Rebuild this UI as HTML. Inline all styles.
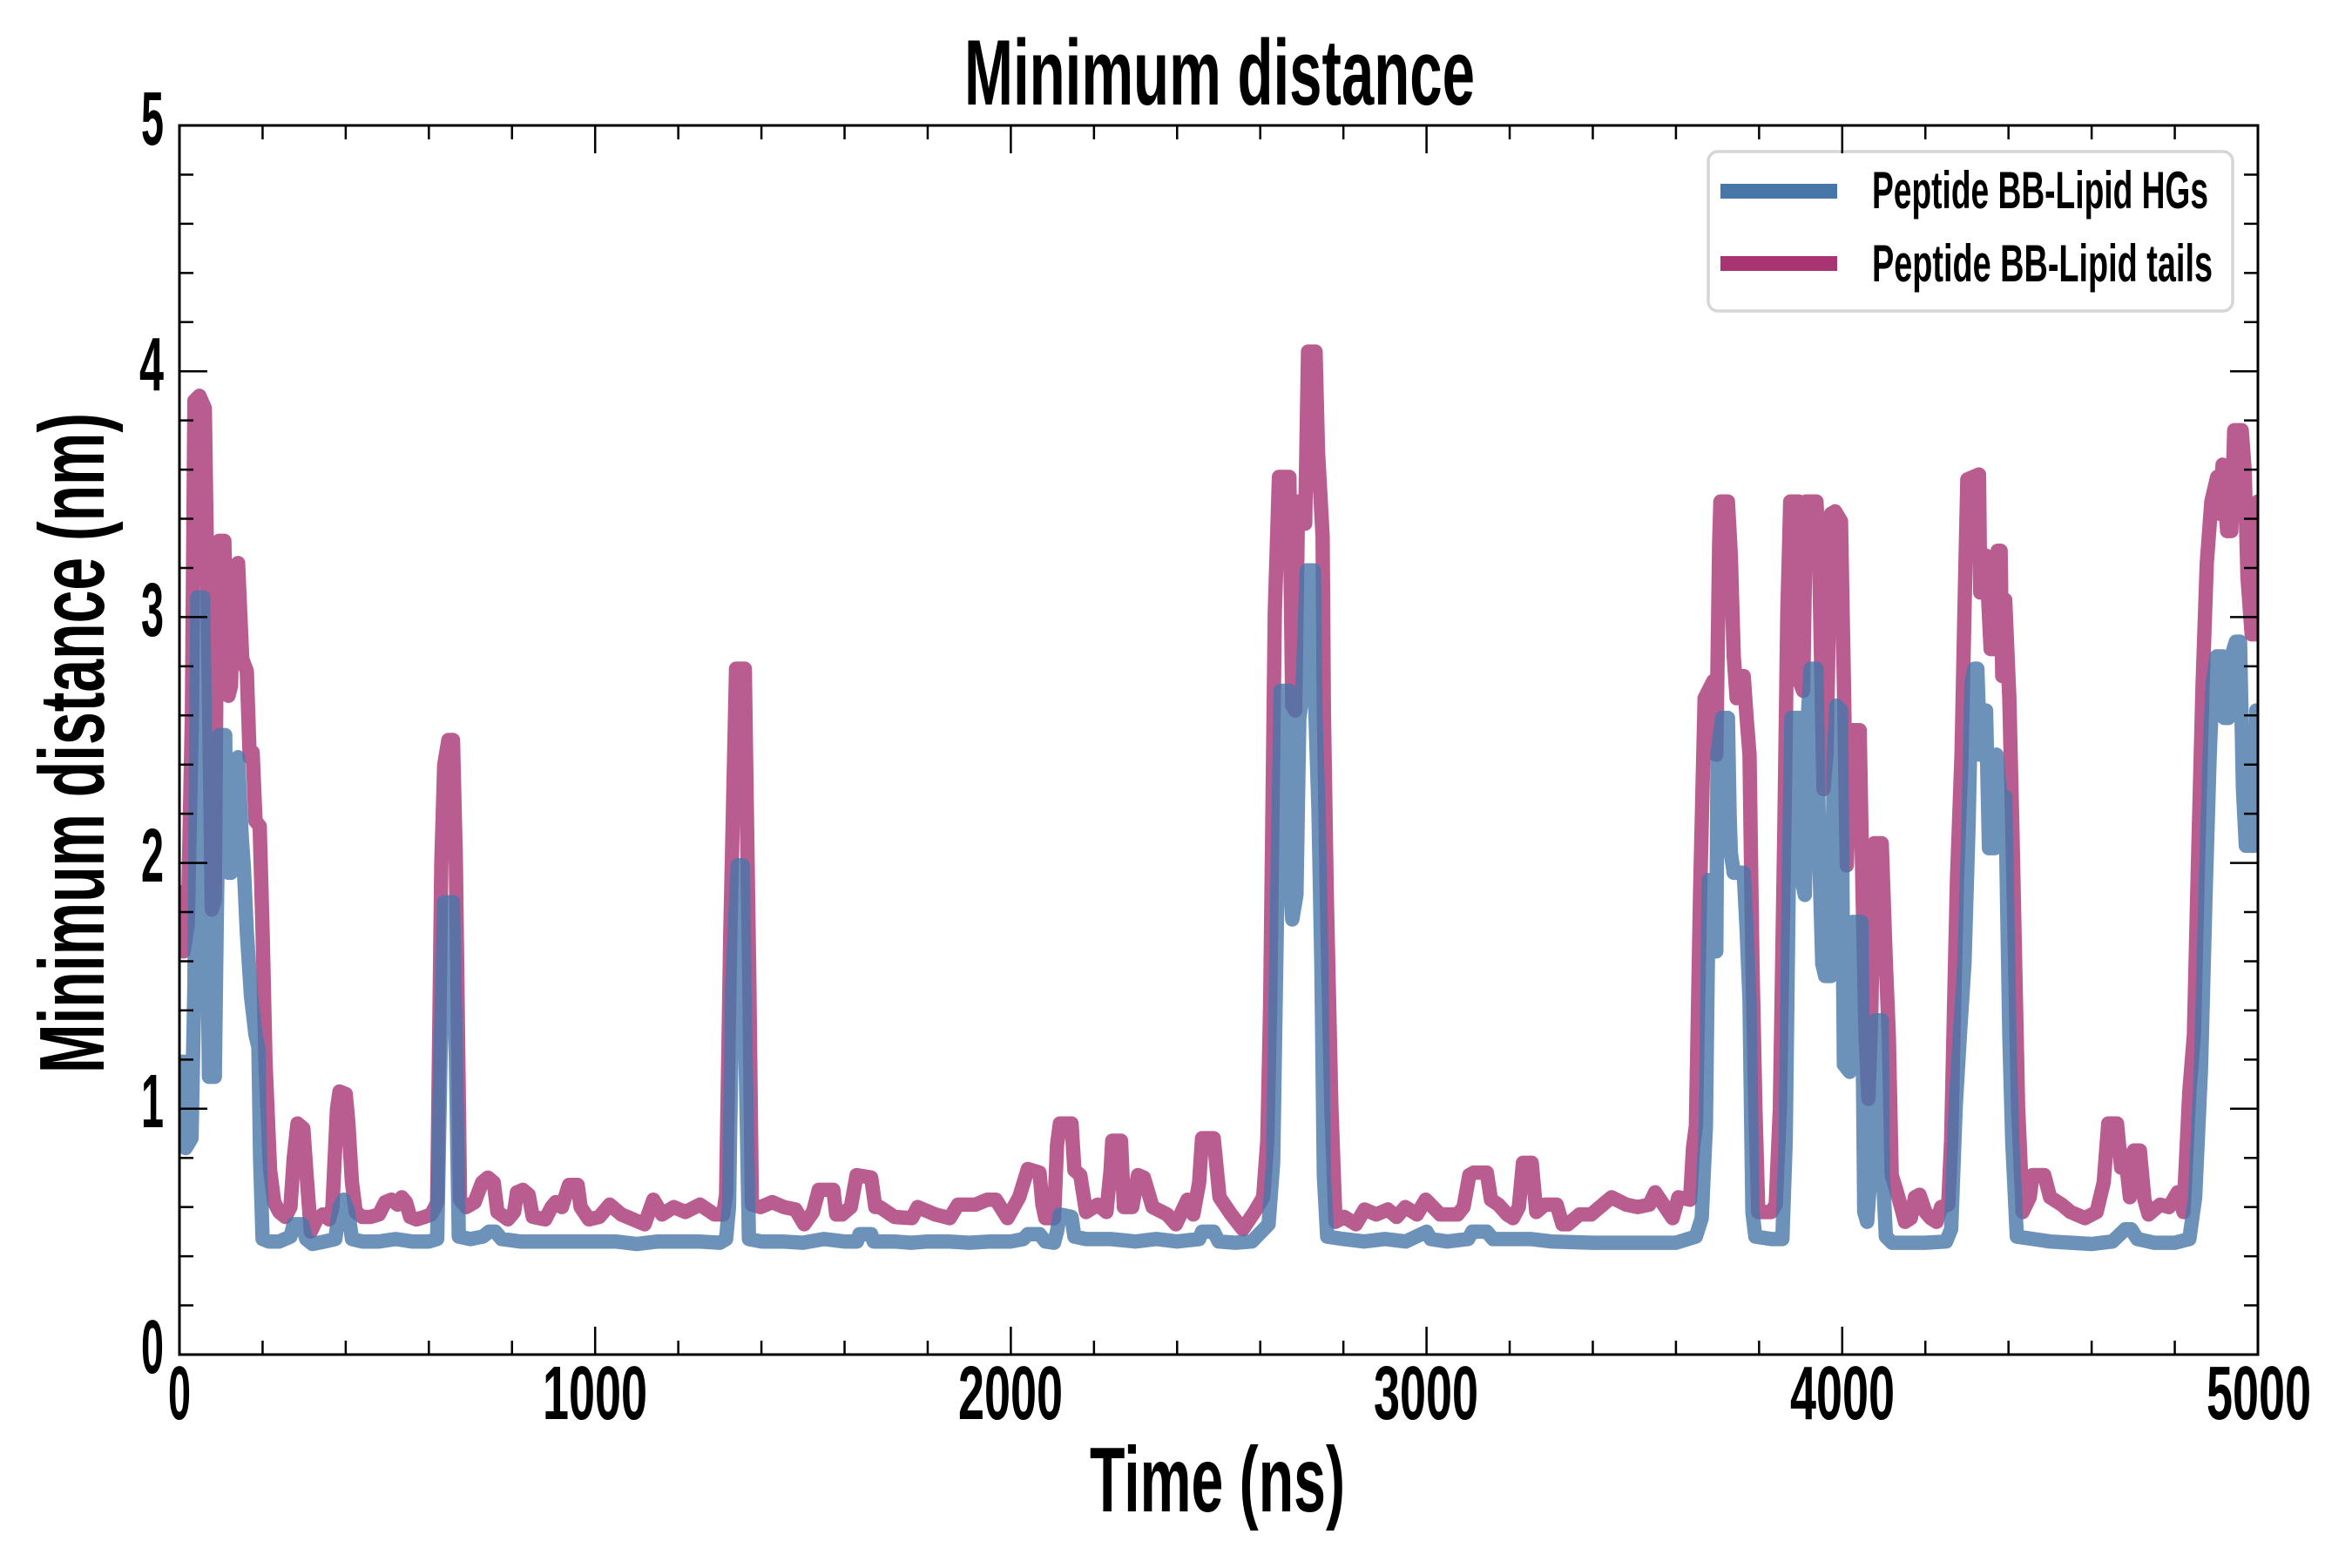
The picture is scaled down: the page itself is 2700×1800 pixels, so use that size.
<!DOCTYPE html>
<html>
<head>
<meta charset="utf-8">
<style>
html,body{margin:0;padding:0;background:#fff;}
svg{display:block;}
text{font-family:"Liberation Sans Narrow","Liberation Sans",sans-serif;font-weight:bold;fill:#000;}
</style>
</head>
<body>
<svg xmlns="http://www.w3.org/2000/svg" width="2700" height="1800" viewBox="0 0 2700 1800">
<defs>
<clipPath id="c" clipPathUnits="userSpaceOnUse"><rect x="206" y="144" width="2386" height="1411"/></clipPath>
</defs>
<rect x="0" y="0" width="2700" height="1800" fill="#fff"/>

<g clip-path="url(#c)">
<g transform="translate(206 1555) scale(0.4772 -282.2)">
<polyline fill="none" stroke="#a83474" stroke-opacity="0.8" stroke-width="16.5" stroke-linejoin="round" vector-effect="non-scaling-stroke"
points="0,1.91 10,1.64 20,1.75 30,2.6 36,3.88 48,3.9 61,3.85 70,2.8 78,1.81 85,1.85 90,3.0 95,3.31 108,3.31 113,2.9 118,2.68 124,2.72 131,3.2 141,3.22 151,2.83 162,2.78 169,2.43 176,2.45 183,2.17 193,2.15 200,1.72 207,1.19 218,0.75 228,0.62 240,0.58 255,0.56 267,0.6 275,0.8 284,0.94 298,0.92 305,0.75 316,0.5 330,0.55 345,0.57 360,0.55 368,0.6 379,1.0 385,1.07 400,1.06 406,0.95 415,0.7 424,0.58 440,0.56 460,0.56 480,0.57 495,0.62 510,0.63 525,0.61 535,0.64 545,0.62 555,0.56 570,0.55 590,0.56 605,0.57 615,0.6 620,0.62 630,2.0 637,2.4 647,2.5 658,2.5 665,2.0 675,0.63 690,0.6 710,0.62 728,0.7 742,0.72 756,0.7 765,0.58 790,0.55 805,0.58 812,0.66 826,0.67 840,0.65 850,0.56 880,0.55 895,0.6 905,0.62 920,0.6 937,0.69 958,0.69 965,0.6 985,0.55 1010,0.56 1035,0.61 1063,0.57 1084,0.555 1119,0.53 1140,0.63 1161,0.57 1189,0.6 1217,0.58 1252,0.61 1287,0.57 1308,0.57 1315,0.65 1325,1.7 1339,2.79 1360,2.79 1371,1.5 1377,0.61 1398,0.6 1426,0.62 1454,0.6 1482,0.59 1503,0.53 1524,0.58 1538,0.67 1573,0.67 1580,0.57 1594,0.57 1615,0.6 1629,0.73 1664,0.72 1674,0.6 1685,0.6 1720,0.56 1762,0.555 1776,0.6 1818,0.57 1853,0.555 1873,0.61 1915,0.61 1943,0.63 1964,0.63 1992,0.555 2020,0.64 2041,0.755 2069,0.74 2076,0.61 2083,0.555 2104,0.555 2111,0.85 2118,0.94 2146,0.94 2153,0.75 2167,0.73 2181,0.58 2209,0.61 2230,0.58 2240,0.75 2244,0.87 2265,0.87 2272,0.6 2292,0.6 2306,0.73 2320,0.72 2341,0.6 2376,0.57 2397,0.53 2425,0.63 2439,0.57 2453,0.7 2460,0.88 2488,0.88 2502,0.64 2530,0.57 2558,0.51 2586,0.58 2607,0.64 2617,0.87 2624,1.44 2635,3.02 2645,3.57 2670,3.57 2677,2.64 2684,2.62 2691,3.47 2701,3.47 2708,3.38 2715,4.08 2733,4.08 2739,3.67 2750,3.33 2753,2.62 2760,1.87 2771,1.01 2781,0.54 2802,0.56 2830,0.53 2851,0.59 2879,0.57 2907,0.59 2928,0.56 2949,0.6 2977,0.57 2998,0.63 3033,0.57 3075,0.57 3089,0.6 3103,0.73 3113,0.74 3145,0.74 3155,0.63 3173,0.61 3194,0.57 3208,0.555 3222,0.6 3232,0.78 3253,0.78 3264,0.58 3285,0.61 3313,0.61 3327,0.53 3340,0.53 3368,0.57 3396,0.57 3417,0.6 3445,0.64 3480,0.61 3508,0.6 3536,0.61 3550,0.66 3578,0.59 3592,0.555 3606,0.64 3634,0.63 3641,0.84 3648,0.93 3658,1.87 3669,2.67 3690,2.74 3697,2.44 3704,3.3 3707,3.47 3725,3.47 3732,3.25 3739,2.84 3746,2.67 3763,2.76 3770,2.59 3777,2.44 3784,1.59 3791,1.01 3798,0.58 3829,0.58 3840,0.61 3850,1.0 3861,2.16 3868,3.02 3875,3.47 3896,3.47 3899,2.73 3906,2.7 3913,3.47 3938,3.47 3945,3.19 3955,2.3 3962,2.44 3973,3.42 3983,3.43 3997,3.39 4004,2.73 4011,1.99 4021,2.54 4042,2.54 4049,1.87 4056,1.3 4063,1.04 4070,1.4 4077,2.08 4095,2.08 4105,1.59 4112,1.3 4119,0.73 4130,0.67 4140,0.61 4151,0.54 4165,0.555 4175,0.64 4186,0.65 4200,0.58 4213,0.555 4227,0.54 4238,0.6 4255,0.61 4262,0.87 4269,1.41 4276,1.93 4287,2.44 4294,3.02 4301,3.56 4329,3.58 4332,3.1 4339,3.25 4346,3.25 4357,2.87 4371,2.87 4374,3.27 4381,3.27 4385,2.76 4392,3.07 4402,2.67 4409,2.16 4416,1.59 4423,1.01 4434,0.58 4451,0.64 4458,0.73 4486,0.73 4500,0.64 4528,0.61 4549,0.58 4563,0.57 4584,0.555 4612,0.58 4629,0.7 4640,0.94 4661,0.94 4671,0.76 4681,0.81 4692,0.64 4702,0.83 4716,0.83 4727,0.63 4737,0.57 4765,0.61 4786,0.6 4807,0.66 4821,0.58 4835,1.07 4846,1.3 4856,2.01 4867,2.73 4877,3.22 4888,3.47 4902,3.57 4909,3.42 4915,3.62 4926,3.35 4936,3.35 4943,3.76 4961,3.76 4968,3.6 4975,3.16 4985,2.93 4996,2.93 5000,3.47 5010,3.47"/>
<polyline fill="none" stroke="#4777a9" stroke-opacity="0.8" stroke-width="16.5" stroke-linejoin="round" vector-effect="non-scaling-stroke"
points="0,1.22 5,0.85 15,0.84 29,0.88 36,1.5 43,3.08 57,3.08 64,2.2 71,1.13 85,1.13 90,1.8 96,2.52 110,2.52 113,2.1 118,1.96 124,1.96 127,2.35 141,2.43 150,2.1 155,1.98 162,1.72 172,1.46 183,1.3 190,1.25 194,0.8 200,0.47 215,0.46 240,0.46 267,0.48 275,0.53 295,0.53 305,0.47 320,0.45 350,0.46 375,0.47 385,0.6 395,0.63 406,0.58 415,0.47 440,0.46 480,0.46 520,0.47 560,0.46 600,0.46 620,0.47 628,1.2 637,1.84 658,1.84 665,1.2 672,0.48 700,0.47 730,0.48 745,0.5 760,0.5 775,0.47 820,0.46 880,0.46 940,0.46 1000,0.46 1050,0.46 1100,0.45 1150,0.46 1200,0.46 1250,0.46 1300,0.455 1315,0.47 1322,0.6 1330,1.5 1343,1.99 1355,1.99 1362,1.2 1370,0.47 1400,0.46 1450,0.46 1500,0.455 1550,0.47 1600,0.46 1630,0.46 1636,0.49 1664,0.49 1670,0.46 1720,0.46 1760,0.455 1800,0.46 1850,0.46 1900,0.455 1950,0.46 2000,0.46 2030,0.47 2041,0.49 2069,0.49 2083,0.46 2104,0.455 2111,0.5 2118,0.57 2146,0.56 2153,0.48 2181,0.47 2240,0.47 2300,0.46 2350,0.47 2400,0.46 2453,0.47 2460,0.5 2488,0.5 2500,0.46 2540,0.455 2580,0.46 2620,0.53 2631,0.78 2641,1.87 2649,2.7 2670,2.7 2674,1.87 2677,1.77 2687,1.87 2694,2.59 2701,2.67 2712,3.19 2729,3.19 2733,2.59 2740,2.22 2747,1.59 2753,0.73 2761,0.48 2800,0.47 2850,0.46 2900,0.47 2950,0.46 3000,0.5 3010,0.47 3050,0.46 3100,0.47 3110,0.5 3145,0.5 3160,0.47 3200,0.47 3250,0.47 3300,0.46 3400,0.455 3500,0.455 3600,0.455 3648,0.48 3662,0.555 3672,0.93 3679,1.93 3690,1.93 3697,1.64 3700,2.44 3711,2.59 3725,2.59 3729,2.2 3732,2.04 3739,1.96 3763,1.96 3770,1.73 3777,1.44 3784,0.58 3791,0.48 3830,0.47 3856,0.47 3864,0.87 3871,1.87 3878,2.59 3896,2.59 3903,1.93 3910,1.87 3917,2.59 3924,2.79 3938,2.79 3945,2.01 3952,1.59 3959,1.54 3973,1.54 3980,2.44 3986,2.64 3997,2.62 4004,1.18 4018,1.15 4025,1.76 4046,1.76 4049,1.3 4053,0.58 4060,0.54 4070,0.78 4081,1.36 4095,1.36 4098,0.73 4105,0.48 4120,0.455 4200,0.455 4250,0.46 4262,0.51 4273,1.01 4283,1.3 4294,1.59 4304,2.16 4311,2.73 4318,2.79 4325,2.79 4332,2.44 4339,2.62 4346,2.62 4353,2.06 4367,2.06 4371,2.44 4381,2.27 4392,2.27 4395,2.01 4402,1.3 4409,0.87 4420,0.48 4460,0.47 4500,0.46 4550,0.455 4600,0.45 4650,0.46 4681,0.51 4695,0.51 4710,0.47 4750,0.455 4800,0.455 4835,0.47 4849,0.64 4863,1.16 4874,1.87 4884,2.44 4891,2.73 4901,2.84 4915,2.84 4919,2.59 4929,2.59 4936,2.84 4947,2.9 4957,2.9 4964,2.3 4971,2.07 4992,2.07 4996,2.62 5010,2.62"/>
</g>
</g>

<!-- legend -->
<rect x="1961" y="174" width="602" height="183" rx="11" ry="11" fill="#fff" fill-opacity="0.9" stroke="#d6d6d6" stroke-width="3.5"/>
<rect x="1975" y="211" width="134" height="17" fill="#4777a9"/>
<rect x="1975" y="294" width="134" height="17" fill="#a83474"/>
<text x="2149" y="239" font-size="60" textLength="386" lengthAdjust="spacingAndGlyphs">Peptide BB-Lipid HGs</text>
<text x="2149" y="323" font-size="60" textLength="391" lengthAdjust="spacingAndGlyphs">Peptide BB-Lipid tails</text>

<!-- ticks -->
<g stroke="#000" stroke-width="2.5" fill="none">
<path d="M683.2,1555V1523 M1160.4,1555V1523 M1637.6,1555V1523 M2114.8,1555V1523
M683.2,144V176 M1160.4,144V176 M1637.6,144V176 M2114.8,144V176
M206,1272.8H238 M206,990.6H238 M206,708.4H238 M206,426.2H238
M2592,1272.8H2560 M2592,990.6H2560 M2592,708.4H2560 M2592,426.2H2560"/>
<path d="M301.44,1555v-16 M396.88,1555v-16 M492.32,1555v-16 M587.76,1555v-16 M778.64,1555v-16 M874.08,1555v-16 M969.52,1555v-16 M1064.96,1555v-16 M1255.84,1555v-16 M1351.28,1555v-16 M1446.72,1555v-16 M1542.16,1555v-16 M1733.04,1555v-16 M1828.48,1555v-16 M1923.92,1555v-16 M2019.36,1555v-16 M2210.24,1555v-16 M2305.68,1555v-16 M2401.12,1555v-16 M2496.56,1555v-16
M301.44,144v16 M396.88,144v16 M492.32,144v16 M587.76,144v16 M778.64,144v16 M874.08,144v16 M969.52,144v16 M1064.96,144v16 M1255.84,144v16 M1351.28,144v16 M1446.72,144v16 M1542.16,144v16 M1733.04,144v16 M1828.48,144v16 M1923.92,144v16 M2019.36,144v16 M2210.24,144v16 M2305.68,144v16 M2401.12,144v16 M2496.56,144v16
M206,1498.56h16 M206,1442.12h16 M206,1385.68h16 M206,1329.24h16 M206,1216.36h16 M206,1159.92h16 M206,1103.48h16 M206,1047.04h16 M206,934.16h16 M206,877.72h16 M206,821.28h16 M206,764.84h16 M206,651.96h16 M206,595.52h16 M206,539.08h16 M206,482.64h16 M206,369.76h16 M206,313.32h16 M206,256.88h16 M206,200.44h16
M2592,1498.56h-16 M2592,1442.12h-16 M2592,1385.68h-16 M2592,1329.24h-16 M2592,1216.36h-16 M2592,1159.92h-16 M2592,1103.48h-16 M2592,1047.04h-16 M2592,934.16h-16 M2592,877.72h-16 M2592,821.28h-16 M2592,764.84h-16 M2592,651.96h-16 M2592,595.52h-16 M2592,539.08h-16 M2592,482.64h-16 M2592,369.76h-16 M2592,313.32h-16 M2592,256.88h-16 M2592,200.44h-16"/>
</g>

<!-- spines -->
<rect x="206" y="144" width="2386" height="1411" fill="none" stroke="#000" stroke-width="3"/>

<!-- y tick labels -->
<g font-size="87">
<text x="162" y="1576" textLength="26" lengthAdjust="spacingAndGlyphs">0</text>
<text x="162" y="1294" textLength="26" lengthAdjust="spacingAndGlyphs">1</text>
<text x="162" y="1012" textLength="26" lengthAdjust="spacingAndGlyphs">2</text>
<text x="162" y="730" textLength="26" lengthAdjust="spacingAndGlyphs">3</text>
<text x="160" y="448" textLength="28" lengthAdjust="spacingAndGlyphs">4</text>
<text x="162" y="166" textLength="26" lengthAdjust="spacingAndGlyphs">5</text>
</g>

<!-- x tick labels -->
<g font-size="87">
<text x="193" y="1629" textLength="26" lengthAdjust="spacingAndGlyphs">0</text>
<text x="623" y="1629" textLength="120" lengthAdjust="spacingAndGlyphs">1000</text>
<text x="1100" y="1629" textLength="120" lengthAdjust="spacingAndGlyphs">2000</text>
<text x="1577" y="1629" textLength="120" lengthAdjust="spacingAndGlyphs">3000</text>
<text x="2055" y="1629" textLength="120" lengthAdjust="spacingAndGlyphs">4000</text>
<text x="2533" y="1629" textLength="120" lengthAdjust="spacingAndGlyphs">5000</text>
</g>

<!-- title & axis labels -->
<text x="1107" y="120" font-size="107" textLength="586" lengthAdjust="spacingAndGlyphs">Minimum distance</text>
<text x="1251" y="1735" font-size="106" textLength="293" lengthAdjust="spacingAndGlyphs">Time (ns)</text>
<text transform="translate(119 1232) rotate(-90)" x="0" y="0" font-size="106" textLength="758" lengthAdjust="spacingAndGlyphs">Minimum distance (nm)</text>
</svg>
</body>
</html>
